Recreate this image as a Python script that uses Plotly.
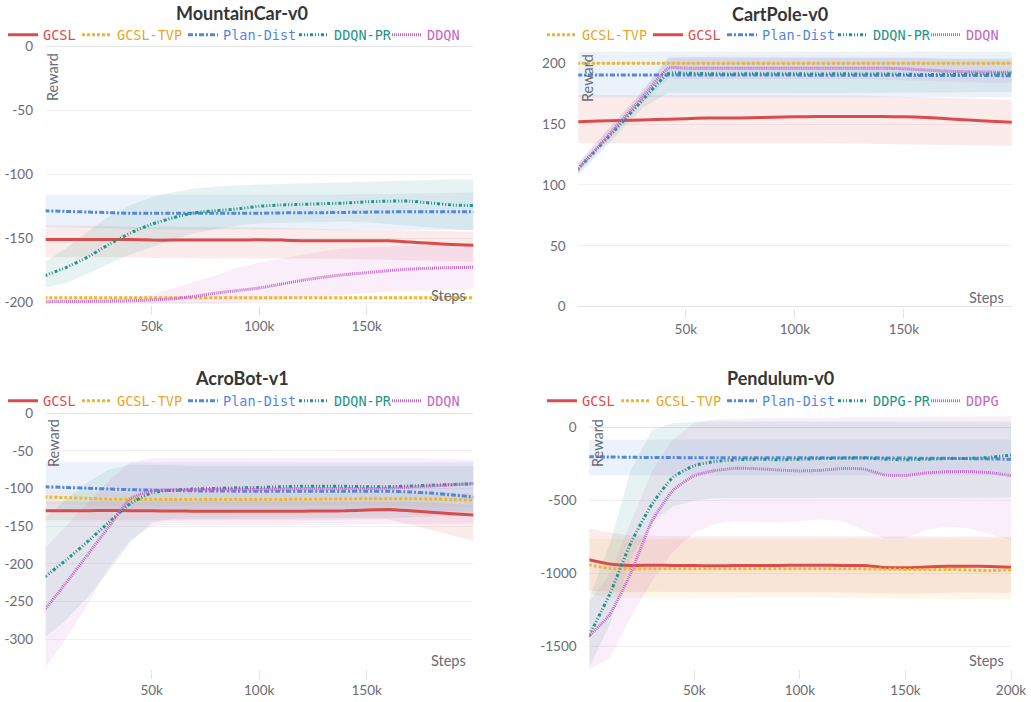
import plotly.graph_objects as go

W, H = 1031, 702

# ---------------- data ----------------
STEPS = [0, 10000, 20000, 30000, 40000, 50000, 60000, 70000, 80000, 90000, 100000,
         110000, 120000, 130000, 140000, 150000, 160000, 170000, 180000, 190000, 200000]
CP_STEPS = [0, 10000, 20000, 30000, 42000, 50000, 60000, 70000, 80000, 90000, 100000,
            110000, 120000, 130000, 140000, 150000, 160000, 170000, 180000, 190000, 200000]

# MountainCar-v0
mc_gcsl = [-151, -151, -151, -151, -151, -151.5, -151.5, -151.5, -151.5, -151.5, -151.2, -151.5, -152, -152, -152, -152, -152, -153, -154, -155, -155.5]
mc_gcsl_hi = [-140, -140, -140.5, -140.5, -141, -141, -141, -141.5, -141.5, -141.5, -141.5, -142, -142.5, -143, -143, -143.5, -143.5, -144, -144.5, -145, -145]
mc_gcsl_lo = [-165, -165, -165, -165, -165, -165.5, -165.5, -165.5, -165.5, -165.5, -165.5, -165.5, -166, -166, -166, -166, -166.5, -167, -167.5, -168, -168.5]
mc_tvp = [-196.6, -196.6, -196.7, -196.7, -196.7, -196.7, -196.7, -196.7, -196.7, -196.7, -196.7, -196.7, -196.7, -196.7, -196.7, -196.7, -196.7, -196.7, -196.7, -196.7, -196.7]
mc_tvp_hi = [-195.2, -195.2, -195.2, -195.2, -195.2, -195.2, -195.2, -195.2, -195.2, -195.2, -195.2, -195.2, -195.2, -195.2, -195.2, -195.2, -195.2, -195.2, -195.2, -195.2, -195.2]
mc_tvp_lo = [-198.2, -198.2, -198.2, -198.2, -198.2, -198.2, -198.2, -198.2, -198.2, -198.2, -198.2, -198.2, -198.2, -198.2, -198.2, -198.2, -198.2, -198.2, -198.2, -198.2, -198.2]
mc_plan = [-128.5, -129, -129.5, -130, -130.5, -130.5, -130.5, -130.5, -130.5, -130.5, -130.5, -130.2, -130, -130, -129.8, -129.6, -129.4, -129.3, -129.2, -129.2, -129.2]
mc_plan_hi = [-116, -116, -116, -116.5, -116.5, -116.5, -116.5, -116.5, -116.5, -116.5, -116.5, -116.5, -116.3, -116, -115.8, -115.5, -115.2, -115, -114.8, -114.5, -114.3]
mc_plan_lo = [-141, -141.5, -142, -142.5, -143, -143, -143, -143, -143, -143, -143, -143, -143, -143, -143, -143, -143, -143.2, -143.5, -143.5, -143.5]
mc_pr = [-179.5, -173, -165, -155, -146, -139, -134, -130, -128.5, -127, -125, -124, -123.5, -123, -122.5, -121.5, -121, -121, -122.5, -124, -124.5]
mc_pr_hi = [-169, -158, -145, -133, -124, -118, -114, -111, -109.5, -108.5, -108, -107.5, -107, -106.5, -106, -105.5, -105, -104.5, -104, -104, -104]
mc_pr_lo = [-189, -185, -178, -170, -163, -157, -151, -146, -143, -140, -138.5, -138, -137.5, -137, -137, -137.5, -138.5, -140, -141.5, -143, -144]
mc_ddqn = [-199.7, -199.6, -199.5, -199.3, -199, -198.5, -197.5, -195.5, -193, -191, -189, -186, -183, -180.5, -178.5, -177, -175.5, -174.2, -173.5, -173, -172.8]
mc_ddqn_hi = [-198, -197.8, -197.6, -197.2, -196.5, -194, -189, -184, -179, -173, -169, -166, -163, -160, -158, -157, -156.5, -156, -155.5, -155, -155]
mc_ddqn_lo = [-201.5, -201.5, -201.5, -201.5, -201.5, -201.5, -201.5, -201.5, -201.5, -200.5, -199.5, -198, -196.5, -195, -194, -193, -192, -191, -190.5, -190, -189.5]

# CartPole-v0
cp_gcsl = [152, 152.5, 153, 153.5, 154, 154.5, 155, 155, 155.3, 155.7, 156, 156.3, 156.3, 156.3, 156.2, 156, 155.5, 154.5, 153.3, 152.3, 151.5]
cp_gcsl_hi = [174, 174, 174, 174, 174, 174, 174, 174, 174, 174, 174, 174, 174, 173.5, 173, 172.5, 172, 171.5, 171, 170.5, 170]
cp_gcsl_lo = [134.5, 134.5, 134.5, 134.5, 134.5, 134.5, 134.5, 134.5, 134.5, 134.5, 134.5, 134.5, 134.5, 134.2, 134, 133.7, 133.4, 133, 132.7, 132.3, 132]
cp_tvp = [200, 200, 200, 200, 200, 200, 200, 200, 200, 200, 200, 200, 200, 200, 200, 200, 200, 200, 200, 200, 200]
cp_tvp_hi = [201, 201, 201, 201, 201, 201, 201, 201, 201, 201, 201, 201, 201, 201, 201, 201, 201, 201, 201, 201, 201]
cp_tvp_lo = [199, 199, 199, 199, 199, 199, 199, 199, 199, 199, 199, 199, 199, 199, 199, 199, 199, 199, 199, 199, 199]
cp_plan = [190.4, 190.4, 190.4, 190.4, 190.4, 190.4, 190.4, 190.3, 190.3, 190.3, 190.3, 190.2, 190.2, 190.2, 190.1, 190.1, 190, 190, 189.9, 189.9, 189.8]
cp_plan_hi = [209.5, 209.5, 209.5, 209.5, 209.5, 209.5, 209.5, 209.5, 209.5, 209.5, 209.5, 209.5, 209.5, 209.5, 209.5, 209.5, 209.5, 209.5, 209.5, 209.5, 209.5]
cp_plan_lo = [172, 172, 172, 172, 172, 172, 172, 172, 172, 172, 172, 172, 172, 172, 172, 172, 172, 172, 172, 172, 172]
cp_pr = [112, 131, 150, 169.5, 191.5, 191.8, 191.5, 191.2, 191.5, 191.3, 191.4, 191.2, 191.4, 191.2, 191.3, 191, 190.8, 191, 191.2, 191.3, 191.5]
cp_pr_hi = [117, 137, 157, 177, 205, 205, 205, 205, 205, 205, 205, 205, 205, 205, 205, 204.5, 204.5, 204, 204, 204, 204]
cp_pr_lo = [107, 125, 144, 163, 176, 175.5, 175.5, 175.5, 175.5, 175.5, 175.5, 175.5, 175.5, 175.5, 175.5, 176, 176, 176, 176.5, 176.5, 176.5]
cp_ddqn = [112.5, 132, 152, 172, 196, 196, 196, 196, 196, 196, 196, 196, 196, 196, 196, 195.5, 194.5, 193.5, 193, 192.8, 192.5]
cp_ddqn_hi = [117, 137, 157, 177, 204, 205, 205, 205, 205, 205, 205, 205, 205, 205, 205, 204.5, 204, 203.5, 203, 203, 203]
cp_ddqn_lo = [108, 127, 147, 167, 188, 187, 187, 187, 187, 187, 187, 187, 187, 187, 187, 186, 185.5, 185, 184.5, 184, 184]

# AcroBot-v1
ab_gcsl = [-129.5, -129.5, -129.3, -129.2, -129.3, -129.5, -129.8, -130, -130, -130, -130, -130, -130, -129.8, -129.5, -128.5, -127.8, -129.5, -131.5, -133.5, -135.2]
ab_gcsl_hi = [-117, -117, -117, -117, -117, -117, -117, -117, -117, -117, -117, -117, -117, -117, -117, -116.5, -116.5, -117.5, -118.5, -120, -122]
ab_gcsl_lo = [-142, -142, -142, -142, -142, -142, -142, -142, -142, -142, -142, -142, -142, -142, -141.5, -141, -141, -148, -155, -162, -170]
ab_tvp = [-111, -112, -113, -114, -114.4, -114.4, -114.4, -114.4, -114.4, -114.4, -114.4, -114.4, -114.2, -114, -113.8, -113.5, -113.5, -113.5, -114, -114.8, -115.2]
ab_tvp_hi = [-102, -103, -104, -105, -105.4, -105.4, -105.4, -105.4, -105.4, -105.4, -105.4, -105.4, -105.2, -105, -104.8, -104.5, -104.5, -104.5, -105, -105.8, -106.2]
ab_tvp_lo = [-120, -121, -122, -123, -123.4, -123.4, -123.4, -123.4, -123.4, -123.4, -123.4, -123.4, -123.2, -123, -122.8, -122.5, -122.5, -122.5, -123, -123.8, -124.2]
ab_plan = [-97.5, -98.5, -99.5, -100.5, -101.5, -102, -102.5, -103, -103.2, -103.4, -103.4, -103.4, -103.4, -103.4, -103.4, -103.4, -103.5, -104.5, -106, -108.5, -111.2]
ab_plan_hi = [-65, -65, -65, -65, -65, -65, -65, -65, -65, -65, -65, -65, -65, -65, -65, -65, -65, -65, -65, -65, -65]
ab_plan_lo = [-130, -130, -130, -130, -130, -130, -130, -130, -130, -130, -130, -130, -130, -130, -130, -130, -130, -130, -130, -130, -130]
ab_pr = [-218, -195.5, -171, -145, -120, -105.5, -102, -100.5, -99.7, -99, -98.5, -97.5, -96.8, -96.8, -97, -97.5, -97.5, -96.6, -95.5, -94.5, -93.5]
ab_pr_hi = [-140, -115, -92, -75, -68, -68, -69, -70, -70, -70, -70, -70, -70, -70, -70, -70, -70, -70, -70, -70, -70]
ab_pr_lo = [-299, -275, -245, -210, -172, -145, -140, -139, -139, -139, -139, -139, -139, -139, -139, -139, -139, -138, -137, -136, -135]
ab_ddqn = [-262, -226, -188.7, -151, -113.5, -103, -102, -101.5, -101, -101, -101, -100.5, -100, -100, -100, -100, -99.5, -98, -96.5, -95, -93.5]
ab_ddqn_hi = [-180, -150, -120, -90, -65, -60, -59, -59, -59, -59, -59, -59, -59, -59, -59, -59, -60, -60, -60, -61, -62]
ab_ddqn_lo = [-340, -300, -255, -205, -168, -150, -148, -148, -148, -148, -148, -148, -148, -148, -148, -147, -146, -146, -146, -146, -146]

# Pendulum-v0
pd_gcsl = [-905, -935, -945, -943, -945, -945, -947, -945, -945, -945, -943, -943, -945, -945, -958, -960, -955, -950, -950, -952, -957]
pd_gcsl_hi = [-690, -720, -740, -745, -745, -745, -745, -745, -745, -745, -745, -745, -745, -745, -748, -750, -748, -746, -745, -745, -748]
pd_gcsl_lo = [-1120, -1125, -1130, -1130, -1130, -1130, -1130, -1130, -1130, -1130, -1130, -1130, -1130, -1130, -1135, -1138, -1135, -1132, -1130, -1130, -1132]
pd_tvp = [-940, -965, -968, -968, -968, -968, -968, -968, -968, -968, -968, -968, -968, -968, -970, -972, -972, -972, -975, -980, -975]
pd_tvp_hi = [-760, -765, -765, -765, -765, -765, -765, -765, -765, -765, -765, -765, -765, -765, -765, -765, -765, -765, -765, -765, -765]
pd_tvp_lo = [-1140, -1165, -1170, -1170, -1170, -1170, -1165, -1165, -1165, -1165, -1165, -1165, -1168, -1170, -1172, -1172, -1170, -1170, -1172, -1175, -1175]
pd_plan = [-201, -203, -205, -206, -207, -208, -208, -208, -208, -208, -208, -208, -208, -208, -209, -210, -211, -212, -214, -216, -219]
pd_plan_hi = [-85, -85, -85, -85, -85, -85, -85, -85, -85, -85, -85, -85, -85, -85, -85, -85, -85, -85, -85, -85, -85]
pd_plan_lo = [-328, -328, -328, -328, -328, -328, -328, -328, -328, -328, -328, -328, -328, -328, -328, -328, -328, -328, -328, -328, -328]
pd_pr = [-1430, -1140, -790, -525, -340, -262, -233, -222, -218, -222, -218, -214, -212, -210, -218, -222, -218, -214, -212, -205, -190]
pd_pr_hi = [-1180, -800, -290, -20, 30, 38, 40, 40, 40, 40, 40, 40, 40, 40, 40, 40, 40, 40, 40, 40, 40]
pd_pr_lo = [-1650, -1350, -900, -650, -540, -500, -485, -480, -480, -480, -480, -480, -480, -480, -480, -480, -480, -480, -480, -480, -480]
pd_ddpg = [-1430, -1280, -995, -640, -430, -330, -295, -280, -283, -292, -298, -294, -282, -285, -325, -330, -312, -304, -303, -310, -331]
pd_ddpg_hi = [-1200, -1000, -650, -300, -80, 30, 55, 60, 62, 64, 65, 66, 67, 68, 69, 70, 71, 72, 73, 74, 75]
pd_ddpg_lo = [-1660, -1580, -1300, -1050, -850, -720, -660, -640, -645, -650, -640, -630, -640, -700, -760, -760, -700, -680, -690, -730, -770]

# tick labels
X_TICKS = [50000, 100000, 150000]
X_TICKS_PD = [50000, 100000, 150000, 200000]
X_TEXT = ['50k', '100k', '150k']
X_TEXT_PD = ['50k', '100k', '150k', '200k']
MC_YT = [0, -50, -100, -150, -200]
CP_YT = [0, 50, 100, 150, 200]
AB_YT = [0, -50, -100, -150, -200, -250, -300]
PD_YT = [0, -500, -1000, -1500]

# ---------------- styling ----------------
RED, YEL, BLUE, TEAL, MAG = '#DA4C4C', '#EDB732', '#5387DD', '#229487', '#C565C7'
TXT = {RED: '#DA4C4C', YEL: '#E8A52A', BLUE: '#5387DD', TEAL: '#229487', MAG: '#C565C7'}
DASH = {RED: 'solid', YEL: '3px,2px', BLUE: '5px,2px,2px,2px',
        TEAL: '3px,2px,1px,2px,1px,2px', MAG: '1px,1px'}
# width of the text slot of each legend entry (px)
ENTRY_W = {'GCSL': 29, 'GCSL-TVP': 61, 'Plan-Dist': 66, 'DDQN-PR': 48, 'DDPG-PR': 48,
           'DDQN': 36, 'DDPG': 36}


def rgba(hexc, a):
    h = hexc.lstrip('#')
    return 'rgba(%d,%d,%d,%g)' % (int(h[0:2], 16), int(h[2:4], 16), int(h[4:6], 16), a)


panels = [
    dict(ax='1', legend='legend', steps=STEPS,
         series=[('GCSL', RED, mc_gcsl, mc_gcsl_hi, mc_gcsl_lo),
                 ('GCSL-TVP', YEL, mc_tvp, mc_tvp_hi, mc_tvp_lo),
                 ('Plan-Dist', BLUE, mc_plan, mc_plan_hi, mc_plan_lo),
                 ('DDQN-PR', TEAL, mc_pr, mc_pr_hi, mc_pr_lo),
                 ('DDQN', MAG, mc_ddqn, mc_ddqn_hi, mc_ddqn_lo)]),
    dict(ax='2', legend='legend2', steps=CP_STEPS,
         series=[('GCSL-TVP', YEL, cp_tvp, cp_tvp_hi, cp_tvp_lo),
                 ('GCSL', RED, cp_gcsl, cp_gcsl_hi, cp_gcsl_lo),
                 ('Plan-Dist', BLUE, cp_plan, cp_plan_hi, cp_plan_lo),
                 ('DDQN-PR', TEAL, cp_pr, cp_pr_hi, cp_pr_lo),
                 ('DDQN', MAG, cp_ddqn, cp_ddqn_hi, cp_ddqn_lo)]),
    dict(ax='3', legend='legend3', steps=STEPS,
         series=[('GCSL', RED, ab_gcsl, ab_gcsl_hi, ab_gcsl_lo),
                 ('GCSL-TVP', YEL, ab_tvp, ab_tvp_hi, ab_tvp_lo),
                 ('Plan-Dist', BLUE, ab_plan, ab_plan_hi, ab_plan_lo),
                 ('DDQN-PR', TEAL, ab_pr, ab_pr_hi, ab_pr_lo),
                 ('DDQN', MAG, ab_ddqn, ab_ddqn_hi, ab_ddqn_lo)]),
    dict(ax='4', legend='legend4', steps=STEPS,
         series=[('GCSL', RED, pd_gcsl, pd_gcsl_hi, pd_gcsl_lo),
                 ('GCSL-TVP', YEL, pd_tvp, pd_tvp_hi, pd_tvp_lo),
                 ('Plan-Dist', BLUE, pd_plan, pd_plan_hi, pd_plan_lo),
                 ('DDPG-PR', TEAL, pd_pr, pd_pr_hi, pd_pr_lo),
                 ('DDPG', MAG, pd_ddpg, pd_ddpg_hi, pd_ddpg_lo)]),
]

fig = go.Figure()

for p in panels:
    xa = 'x' if p['ax'] == '1' else 'x' + p['ax']
    ya = 'y' if p['ax'] == '1' else 'y' + p['ax']
    xs = p['steps']
    for name, col, m, hi, lo in p['series']:
        fig.add_trace(go.Scatter(
            x=list(xs) + list(xs)[::-1], y=list(hi) + list(lo)[::-1],
            fill='toself', fillcolor=rgba(col, 0.11), line=dict(width=0),
            mode='lines', hoverinfo='skip', showlegend=False, xaxis=xa, yaxis=ya))
    for name, col, m, hi, lo in p['series']:
        fig.add_trace(go.Scatter(
            x=xs, y=m, mode='lines', xaxis=xa, yaxis=ya, legend=p['legend'],
            legendwidth=ENTRY_W[name],
            name='<span style="color:%s">%s</span>' % (TXT[col], name),
            line=dict(color=col, width=3, dash=DASH[col], shape='spline', smoothing=0.5)))

TICKFONT = dict(family='Lato, sans-serif', size=13.5, color='#6b6b76')
GRID = '#f1f1f3'
ZERO = '#e4e4e8'


def px_x(v):
    return v / W


def px_y(v):
    return 1 - v / H


def xaxis(dom, rng, tv, tt, anchor):
    return dict(domain=[px_x(dom[0]), px_x(dom[1])], range=rng, anchor=anchor,
                tickvals=tv, ticktext=tt, ticks='outside', ticklen=9, tickcolor='#e2e2e6',
                tickwidth=1, showgrid=False, zeroline=False, showline=False,
                tickfont=TICKFONT, fixedrange=True, automargin=False)


def yaxis(dom, rng, tv, anchor):
    return dict(domain=[px_y(dom[1]), px_y(dom[0])], range=rng, anchor=anchor,
                tickvals=tv, ticktext=[str(v) for v in tv], ticks='outside', ticklen=9,
                tickcolor='rgba(0,0,0,0)', showgrid=True, gridcolor=GRID, gridwidth=1,
                zeroline=True, zerolinecolor=ZERO, zerolinewidth=1, showline=False,
                tickfont=TICKFONT, fixedrange=True, automargin=False)


LEG = dict(orientation='h', xanchor='left', yanchor='middle', bgcolor='rgba(0,0,0,0)',
           font=dict(family='DejaVu Sans Mono, monospace', size=13.5), itemwidth=30,
           tracegroupgap=0, itemclick=False, itemdoubleclick=False)

fig.update_layout(
    width=W, height=H, autosize=False,
    margin=dict(l=0, r=0, t=0, b=0, autoexpand=False),
    paper_bgcolor='white', plot_bgcolor='white',
    xaxis=xaxis((45.7, 473.3), [700, 199600], X_TICKS, X_TEXT, 'y'),
    yaxis=yaxis((46, 304.6), [-202, 0.5], MC_YT, 'x'),
    xaxis2=xaxis((578.3, 1011.7), [650, 199500], X_TICKS, X_TEXT, 'y2'),
    yaxis2=yaxis((49.9, 307.9), [-1, 211], CP_YT, 'x2'),
    xaxis3=xaxis((45.7, 473.3), [700, 199600], X_TICKS, X_TEXT, 'y3'),
    yaxis3=yaxis((413, 669.1), [-340, 0.5], AB_YT, 'x3'),
    xaxis4=xaxis((589.3, 1011), [300, 200000], X_TICKS_PD, X_TEXT_PD, 'y4'),
    yaxis4=yaxis((412.7, 668.6), [-1650, 100], PD_YT, 'x4'),
    legend=dict(LEG, x=px_x(3), y=px_y(35)),
    legend2=dict(LEG, x=px_x(542), y=px_y(35)),
    legend3=dict(LEG, x=px_x(3), y=px_y(401)),
    legend4=dict(LEG, x=px_x(542), y=px_y(401)),
    showlegend=True,
    hovermode=False,
)

# titles
titles = [('MountainCar-v0', 242, 13), ('CartPole-v0', 780, 14.5),
          ('AcroBot-v1', 242, 378), ('Pendulum-v0', 780, 378)]
for t, cx, cy in titles:
    fig.add_annotation(text='<b>%s</b>' % t, xref='paper', yref='paper', x=px_x(cx), y=px_y(cy),
                       xanchor='center', yanchor='middle', showarrow=False,
                       font=dict(family='Lato, sans-serif', size=18, color='#353535'))

# axis labels
for cx, top in [(53, 51), (587, 52), (53, 417), (597, 417)]:
    fig.add_annotation(text='Reward', textangle=-90, xref='paper', yref='paper',
                       x=px_x(cx), y=px_y(top), xanchor='center', yanchor='top',
                       showarrow=False, font=dict(family='Lato, sans-serif', size=14.5, color='#6b6b76'))
for rx, cy in [(468, 295.7), (1006, 297), (468, 660.7), (1006, 660.7)]:
    fig.add_annotation(text='Steps', xref='paper', yref='paper', x=px_x(rx), y=px_y(cy),
                       xanchor='right', yanchor='middle', showarrow=False,
                       font=dict(family='Lato, sans-serif', size=14.5, color='#6b6b76'))

fig.write_html('out.html', config={'displayModeBar': False},
               post_script="document.body.style.margin='0';")
